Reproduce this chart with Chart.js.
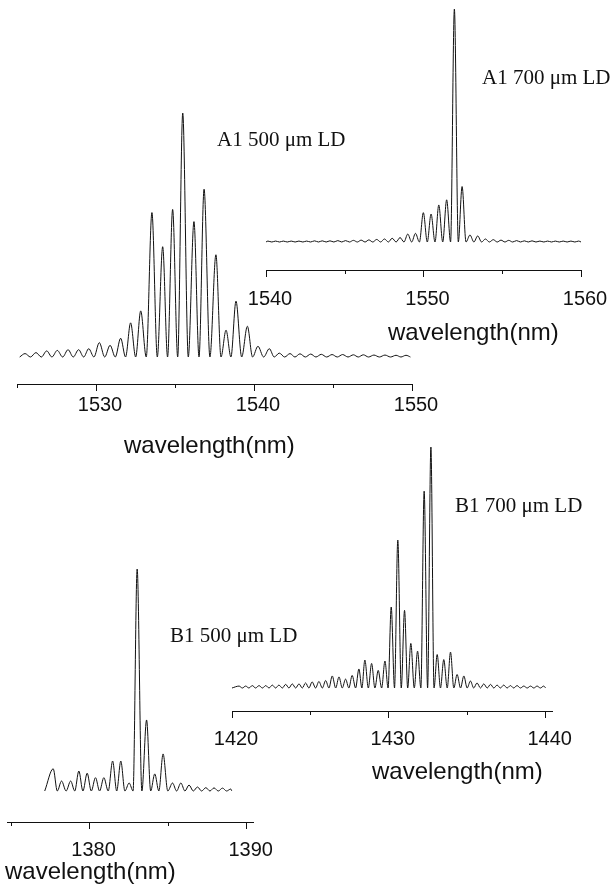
<!DOCTYPE html>
<html>
<head>
<meta charset="utf-8">
<script src="https://cdn.jsdelivr.net/npm/chart.js@4.4.1/dist/chart.umd.min.js"></script>
<style>
  html, body { margin: 0; padding: 0; background: #fff; }
  #page { position: relative; width: 611px; height: 892px; overflow: hidden; }
  #page canvas { position: absolute; }
  .tag { position: absolute; font: 21px "Liberation Serif", "Times New Roman", serif; color: #111; white-space: nowrap; line-height: 1; }
  .xtitle { position: absolute; font: 24px "Liberation Sans", Arial, sans-serif; color: #111; white-space: nowrap; line-height: 1; }
</style>
</head>
<body>
<div id="page">
  <canvas id="cA500"></canvas>
  <canvas id="cA700"></canvas>
  <canvas id="cB500"></canvas>
  <canvas id="cB700"></canvas>

  <div class="tag" style="left:217px;top:129px">A1 500 μm LD</div>
  <div class="tag" style="left:482px;top:67px">A1 700 μm LD</div>
  <div class="tag" style="left:170px;top:625px">B1 500 μm LD</div>
  <div class="tag" style="left:455px;top:495px">B1 700 μm LD</div>

  <div class="xtitle" style="left:124px;top:433px">wavelength(nm)</div>
  <div class="xtitle" style="left:388px;top:320px">wavelength(nm)</div>
  <div class="xtitle" style="left:5px;top:859px">wavelength(nm)</div>
  <div class="xtitle" style="left:372px;top:759px">wavelength(nm)</div>
</div>
<script>
// ---- A1 500 um LD (intensity: main mode = 100, valleys sit on the baseline) ----
const a500PeakWl = [1525.51, 1526.20, 1526.88, 1527.55, 1528.23, 1528.90, 1529.54, 1530.21, 1530.89, 1531.56,
  1532.19, 1532.83, 1533.54, 1534.22, 1534.85, 1535.49, 1536.20, 1536.84, 1537.59, 1538.23,
  1538.86, 1539.58, 1540.25, 1540.97, 1541.60, 1542.28, 1542.91, 1543.59, 1544.26, 1544.94,
  1545.61, 1546.29, 1546.92, 1547.59, 1548.29, 1548.99, 1549.62];
const a500PeakInt = [1.4, 1.8, 2.5, 2.7, 3.0, 3.0, 3.4, 5.9, 4.8, 7.7,
  14.0, 18.9, 59.2, 45.2, 60.5, 100, 55.5, 68.8, 41.9, 11.0,
  22.9, 12.6, 4.4, 3.4, 1.6, 1.4, 1.3, 1.2, 1.1, 1.0,
  1.0, 0.9, 0.9, 0.8, 0.8, 0.7, 0.7];
const a500ValleyWl = [1525.17, 1525.85, 1526.54, 1527.21, 1527.89, 1528.56, 1529.22, 1529.87, 1530.55, 1531.22,
  1531.87, 1532.51, 1533.18, 1533.88, 1534.53, 1535.17, 1535.84, 1536.52, 1537.21, 1537.91,
  1538.54, 1539.22, 1539.91, 1540.61, 1541.28, 1541.94, 1542.59, 1543.25, 1543.92, 1544.60,
  1545.27, 1545.95, 1546.60, 1547.25, 1547.94, 1548.64, 1549.30, 1549.90];
const a500Ticks = [1525, 1530, 1535, 1540, 1545, 1550];
const a500Labels = [1530, 1540, 1550];

// ---- A1 700 um LD ----
const a700PeakWl = [1540.12, 1540.61, 1541.10, 1541.60, 1542.09, 1542.58, 1543.08, 1543.57, 1544.06, 1544.56,
  1545.05, 1545.55, 1546.04, 1546.53, 1547.03, 1547.52, 1548.01, 1548.51, 1549.00, 1549.49,
  1549.99, 1550.48, 1550.97, 1551.47, 1551.96, 1552.45, 1552.95, 1553.44, 1553.93, 1554.43,
  1554.92, 1555.41, 1555.91, 1556.40, 1556.89, 1557.39, 1557.88, 1558.37, 1558.87, 1559.36, 1559.85];
const a700PeakInt = [0.4, 0.4, 0.4, 0.4, 0.4, 0.4, 0.5, 0.5, 0.5, 0.6,
  0.6, 0.7, 0.8, 0.9, 1.1, 1.3, 1.6, 1.9, 3.4, 3.7,
  12.6, 12.0, 15.9, 18.1, 100, 23.8, 3.0, 2.6, 1.3, 1.0,
  0.8, 0.7, 0.6, 0.5, 0.5, 0.4, 0.4, 0.4, 0.4, 0.4, 0.4];
const a700ValleyWl = [1540.00, 1540.37, 1540.86, 1541.35, 1541.85, 1542.34, 1542.83, 1543.33, 1543.82, 1544.31,
  1544.81, 1545.30, 1545.80, 1546.29, 1546.78, 1547.28, 1547.77, 1548.26, 1548.76, 1549.25,
  1549.74, 1550.24, 1550.73, 1551.22, 1551.72, 1552.21, 1552.70, 1553.20, 1553.69, 1554.18,
  1554.68, 1555.17, 1555.66, 1556.16, 1556.65, 1557.14, 1557.64, 1558.13, 1558.62, 1559.12,
  1559.61, 1560.00];
const a700Ticks = [1540, 1545, 1550, 1555, 1560];
const a700Labels = [1540, 1550, 1560];

// ---- B1 500 um LD ----
const b500PeakWl = [1377.69, 1378.22, 1378.80, 1379.32, 1379.85, 1380.38, 1380.91, 1381.47, 1381.99, 1382.52,
  1383.03, 1383.63, 1384.15, 1384.68, 1385.28, 1385.81, 1386.33, 1386.87, 1387.40, 1387.92,
  1388.46, 1388.99];
const b500PeakInt = [10, 4.5, 4.5, 9, 8, 6, 6, 13.5, 13.5, 3.6,
  100, 32, 7.7, 16.7, 3.6, 3.6, 2.7, 1.8, 1.5, 1.4,
  1.3, 0.9];
const b500ValleyWl = [1377.15, 1377.95, 1378.51, 1379.06, 1379.58, 1380.11, 1380.64, 1381.19, 1381.73, 1382.25,
  1382.77, 1383.33, 1383.89, 1384.41, 1384.98, 1385.54, 1386.07, 1386.60, 1387.13, 1387.66,
  1388.19, 1388.72, 1389.05];
const b500Ticks = [1375, 1380, 1385, 1390];
const b500Labels = [1380, 1390];

// ---- B1 700 um LD ----
const b700PeakWl = [1420.45, 1420.87, 1421.29, 1421.72, 1422.15, 1422.57, 1422.99, 1423.42, 1423.84, 1424.27,
  1424.69, 1425.11, 1425.54, 1425.97, 1426.39, 1426.82, 1427.24, 1427.66, 1428.09, 1428.47,
  1428.90, 1429.32, 1429.75, 1430.15, 1430.57, 1431.00, 1431.40, 1431.83, 1432.25, 1432.68,
  1433.08, 1433.50, 1433.93, 1434.35, 1434.78, 1435.20, 1435.62, 1436.05, 1436.48, 1436.90,
  1437.32, 1437.75, 1438.17, 1438.60, 1439.03, 1439.45, 1439.87];
const b700PeakInt = [0.8, 0.8, 1.0, 1.0, 1.0, 1.2, 1.2, 1.5, 1.7, 1.7,
  2.1, 2.5, 2.7, 3.1, 5.0, 4.6, 3.7, 5.2, 7.9, 11.6,
  10.2, 7.3, 11.2, 33.6, 61.4, 32.2, 18.5, 15.3, 81.7, 100,
  13.9, 11.8, 14.9, 5.6, 5.0, 2.9, 2.1, 1.7, 1.5, 1.2,
  1.2, 1.0, 1.0, 0.8, 0.8, 0.8, 0.8];
const b700ValleyWl = [1420.00, 1420.66, 1421.08, 1421.51, 1421.94, 1422.36, 1422.78, 1423.21, 1423.63, 1424.06,
  1424.48, 1424.90, 1425.33, 1425.76, 1426.18, 1426.61, 1427.03, 1427.45, 1427.88, 1428.28,
  1428.69, 1429.11, 1429.54, 1429.95, 1430.36, 1430.79, 1431.20, 1431.62, 1432.04, 1432.47,
  1432.88, 1433.29, 1433.72, 1434.14, 1434.57, 1434.99, 1435.41, 1435.84, 1436.27, 1436.69,
  1437.11, 1437.54, 1437.96, 1438.39, 1438.82, 1439.24, 1439.66, 1440.00];
const b700Ticks = [1420, 1425, 1430, 1435, 1440];
const b700Labels = [1420, 1430, 1440];

const INK = "#111";

// short ticks for the unlabelled (minor) positions
const minorTicks = {
  id: "minorTicks",
  afterDraw(chart) {
    const s = chart.scales.x;
    const c = chart.ctx;
    const labels = chart.options.plugins.minorTicks.labels;
    c.save();
    c.strokeStyle = INK;
    c.lineWidth = 1;
    for (const t of s.ticks) {
      if (labels.includes(t.value)) continue;
      const x = Math.round(s.getPixelForValue(t.value)) + 0.5;
      c.beginPath();
      c.moveTo(x, s.top);
      c.lineTo(x, s.top + 4);
      c.stroke();
    }
    c.restore();
  },
};

// box: pixel spots on the page; min/max land on left/right, 100 on top, 0 on base
function makePanel(id, peakWl, peakInt, valleyWl, ticks, labels, box) {
  const PAD = 40, PADT = 6, AXH = 44;
  const cv = document.getElementById(id);
  const w = (box.right - box.left) + 2 * PAD;
  const h = (box.axis - box.top) + PADT + AXH;
  cv.width = w;
  cv.height = h;
  cv.style.left = (box.left - PAD) + "px";
  cv.style.top = (box.top - PADT) + "px";
  cv.style.width = w + "px";
  cv.style.height = h + "px";

  const k = (box.base - box.top) / 100;
  const yMin = -(box.axis - box.base) / k;

  const pts = peakWl.map((x, i) => ({ x, y: peakInt[i] }))
    .concat(valleyWl.map((x) => ({ x, y: 0 })))
    .sort((a, b) => a.x - b.x);

  return new Chart(cv, {
    type: "line",
    data: {
      datasets: [{
        data: pts,
        borderColor: INK,
        borderWidth: 1,
        pointRadius: 0,
        fill: false,
        cubicInterpolationMode: "monotone",
        clip: false,
      }],
    },
    options: {
      responsive: false,
      animation: false,
      devicePixelRatio: 1,
      events: [],
      layout: { padding: { left: PAD, right: PAD, top: PADT, bottom: 0 } },
      plugins: {
        legend: { display: false },
        tooltip: { enabled: false },
        minorTicks: { labels },
      },
      scales: {
        x: {
          type: "linear",
          min: box.min,
          max: box.max,
          afterBuildTicks: (s) => { s.ticks = ticks.map((v) => ({ value: v })); },
          afterFit: (s) => { s.height = AXH; },
          border: { display: true, color: INK, width: 1 },
          grid: {
            display: true,
            drawOnChartArea: false,
            drawTicks: true,
            tickLength: 7,
            tickWidth: 1,
            tickColor: (ctx) => (ctx.tick && labels.includes(ctx.tick.value) ? INK : "rgba(0,0,0,0)"),
          },
          ticks: {
            autoSkip: false,
            maxRotation: 0,
            padding: box.pad,
            labelOffset: 4,
            color: INK,
            font: { family: "'Liberation Sans', Arial, sans-serif", size: 20 },
            callback: (v) => (labels.includes(v) ? String(v) : ""),
          },
        },
        y: { display: false, min: yMin, max: 100 },
      },
    },
    plugins: [minorTicks],
  });
}

makePanel("cA500", a500PeakWl, a500PeakInt, a500ValleyWl, a500Ticks, a500Labels,
  { min: 1525, max: 1550, left: 17, right: 412, top: 113, base: 357, axis: 384, pad: 2 });
makePanel("cA700", a700PeakWl, a700PeakInt, a700ValleyWl, a700Ticks, a700Labels,
  { min: 1540, max: 1560, left: 266, right: 581, top: 9, base: 242, axis: 270, pad: 10 });
makePanel("cB500", b500PeakWl, b500PeakInt, b500ValleyWl, b500Ticks, b500Labels,
  { min: 1374.75, max: 1390.4, left: 7, right: 253, top: 569, base: 791, axis: 822, pad: 9 });
makePanel("cB700", b700PeakWl, b700PeakInt, b700ValleyWl, b700Ticks, b700Labels,
  { min: 1420, max: 1440.4, left: 232, right: 552, top: 447, base: 688, axis: 711, pad: 9 });
</script>
</body>
</html>
